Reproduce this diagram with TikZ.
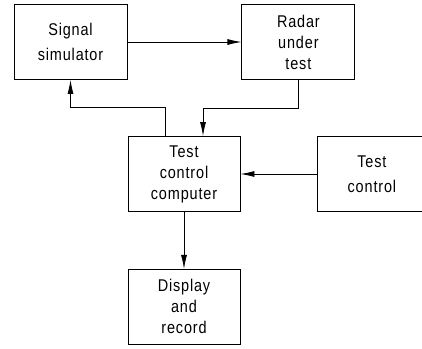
\documentclass[tikz,border=0pt]{standalone}
\usepackage{fontspec}
\setmainfont{Liberation Sans}[FakeStretch=0.85,LetterSpace=5]
\usepackage{tikz}
\usetikzlibrary{positioning,arrows.meta}
\tikzset{
    blk/.style={rectangle,draw,line width=0.9pt,minimum width=113pt,minimum height=75pt,inner sep=2pt,align=center,font=\fontsize{17}{21}\selectfont},
    arr/.style={-{Latex[length=14pt,width=6pt]},line width=0.8pt},
}

\begin{document}
\begin{tikzpicture}[x=1pt,y=-1pt,node distance=114pt]
\useasboundingbox (0,0) rectangle (422,348);
\node[blk] (sigsim) at (70.5,42) {Signal\\[4pt]simulator};
\node[blk,right=of sigsim] (radar) {Radar\\under\\test};
\node[blk,minimum width=112pt] (tcc) at (184,174) {Test\\control\\computer};
\node[blk,minimum width=108pt,right=77pt of tcc] (tctrl) {Test\\[4pt]control};
\node[blk,minimum width=112pt,below=57pt of tcc] (disp) {Display\\and\\record};
\draw[arr] (sigsim) -- (radar);
\draw[arr] (radar.south) -- ++(0,28) -| ([xshift=19pt]tcc.north);
\draw[arr] ([xshift=-19pt]tcc.north) -- ++(0,-29) -| (sigsim.south);
\draw[arr] (tctrl) -- (tcc);
\draw[arr] (tcc) -- (disp);
\end{tikzpicture}
\end{document}
